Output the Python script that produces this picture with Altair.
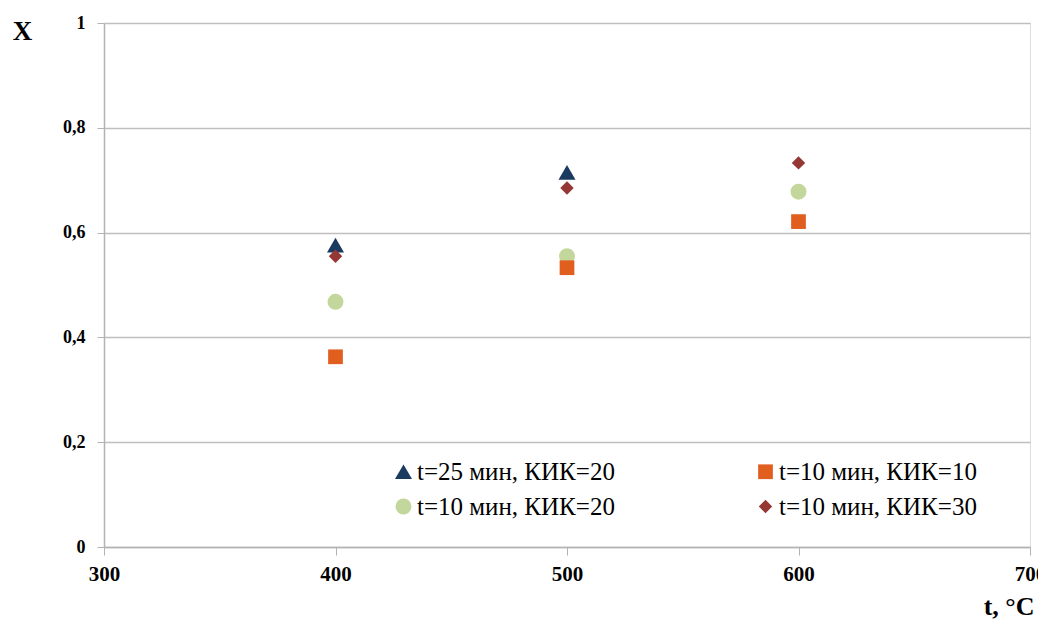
import altair as alt
import pandas as pd

series_names = ["t=25 мин, КИК=20", "t=10 мин, КИК=20", "t=10 мин, КИК=10", "t=10 мин, КИК=30"]
temps_tri = [400, 500]
vals_tri = [0.576, 0.715]
temps_circ = [400, 500, 600]
vals_circ = [0.468, 0.555, 0.678]
temps_sq = [400, 500, 600]
vals_sq = [0.363, 0.533, 0.621]
temps_dia = [400, 500, 600]
vals_dia = [0.555, 0.685, 0.733]

shapes = ["triangle-up", "circle", "square", "diamond"]
colors = ["#1B3A5F", "#C3D69B", "#E05E1E", "#953735"]
sizes = [290, 180, 200, 190]

rows = []
for name, ts, vs in zip(series_names,
                        [temps_tri, temps_circ, temps_sq, temps_dia],
                        [vals_tri, vals_circ, vals_sq, vals_dia]):
    for t, v in zip(ts, vs):
        rows.append({"series": name, "t": t, "x": v})
df = pd.DataFrame(rows)

order_map = {series_names[0]: 0, series_names[1]: 1, series_names[2]: 2, series_names[3]: 3}
df["ord"] = df["series"].map(order_map)

FONT = "'Liberation Serif', 'Times New Roman', serif"

legend_cfg = dict(title=None, orient="none", legendX=287, legendY=436,
                  columns=2, columnPadding=138, rowPadding=9,
                  labelFont=FONT, labelFontSize=25, labelColor="#000", labelLimit=0,
                  labelOffset=1, symbolSize=110, symbolStrokeWidth=0,
                  padding=0, gridAlign="all")

chart = alt.Chart(df).mark_point(filled=True, opacity=1).encode(
    x=alt.X("t:Q", scale=alt.Scale(domain=[300, 700], nice=False),
            axis=alt.Axis(values=[300, 400, 500, 600, 700], grid=False,
                          title="t, °C", titleX=930, titleY=67, titleAlign="right",
                          titleFont=FONT, titleFontSize=26, titleFontWeight="bold",
                          titleColor="#000", titleBaseline="alphabetic",
                          labelFont=FONT, labelFontSize=21, labelFontWeight="bold",
                          labelColor="#000", labelPadding=8, labelFlush=False,
                          domainColor="#B3B3B3", domainWidth=1.5,
                          tickColor="#B3B3B3", tickSize=8, tickWidth=1)),
    y=alt.Y("x:Q", scale=alt.Scale(domain=[0, 1], nice=False),
            axis=alt.Axis(values=[0, 0.2, 0.4, 0.6, 0.8, 1.0],
                          labelExpr="datum.value == 0 ? '0' : datum.value == 1 ? '1' : replace(format(datum.value, '.1f'), '.', ',')",
                          title="X", titleAngle=0, titleX=-82, titleY=16, titleAlign="center",
                          titleFont=FONT, titleFontSize=27, titleFontWeight="bold",
                          titleColor="#000", titleBaseline="alphabetic",
                          labelFont=FONT, labelFontSize=18, labelFontWeight="bold",
                          labelColor="#000", labelPadding=12, labelFlush=False,
                          grid=True, gridColor="#BFBFBF", gridWidth=1.5,
                          domainColor="#B3B3B3", domainWidth=1.5,
                          tickColor="#B3B3B3", tickSize=7, tickWidth=1)),
    shape=alt.Shape("series:N", scale=alt.Scale(domain=series_names, range=shapes),
                    legend=alt.Legend(**legend_cfg)),
    color=alt.Color("series:N", scale=alt.Scale(domain=series_names, range=colors),
                    legend=alt.Legend(**legend_cfg)),
    size=alt.Size("series:N", scale=alt.Scale(domain=series_names, range=sizes), legend=None),
    order=alt.Order("ord:Q"),
).properties(
    width=926, height=524,
    autosize=alt.AutoSizeParams(type="none"),
    padding={"left": 96, "top": 15, "right": 8, "bottom": 73},
).configure_view(stroke=None).configure(background="white", font=FONT)

chart.save("out.html", embed_options={"renderer": "svg", "actions": False})
